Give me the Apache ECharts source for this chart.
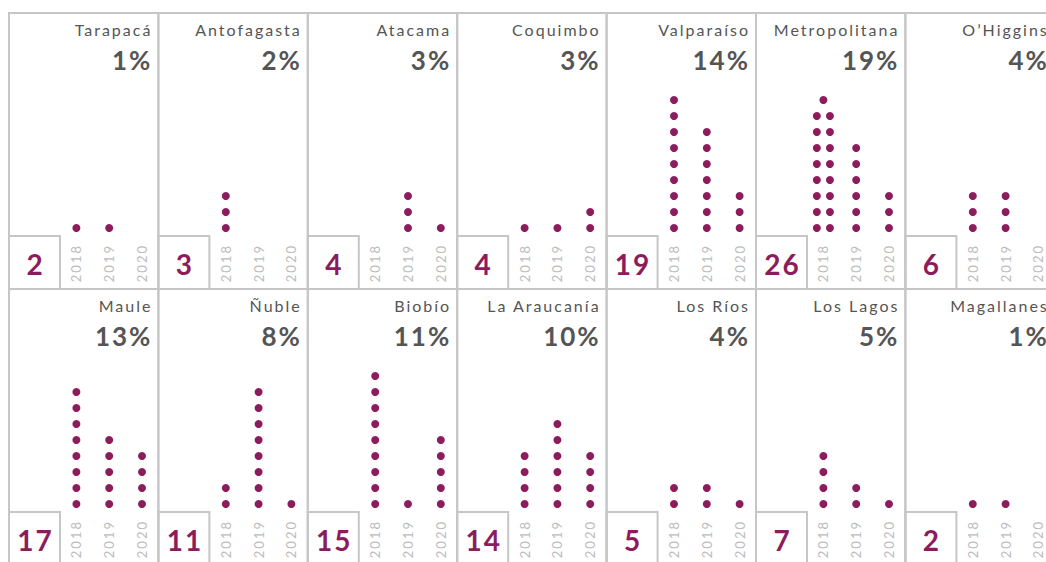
<!DOCTYPE html>
<html>
<head>
<meta charset="utf-8">
<title>Regiones</title>
<script src="https://cdn.jsdelivr.net/npm/echarts@6/dist/echarts.min.js"></script>
<style>
  html, body { margin: 0; padding: 0; background: #fff; }
  #main { width: 1046px; height: 562px; }
  /* el original tiene los textos espaciados */
  #main svg text { letter-spacing: 2px; }
</style>
</head>
<body>
<div id="main"></div>
<script>
// datos por región
const regions = ['Tarapacá', 'Antofagasta', 'Atacama', 'Coquimbo', 'Valparaíso', 'Metropolitana', 'O’Higgins',
  'Maule', 'Ñuble', 'Biobío', 'La Araucanía', 'Los Ríos', 'Los Lagos', 'Magallanes'];
const shares = [1, 2, 3, 3, 14, 19, 4, 13, 8, 11, 10, 4, 5, 1];
const totals = [2, 3, 4, 4, 19, 26, 6, 17, 11, 15, 14, 5, 7, 2];
const years = ['2018', '2019', '2020'];
const cases2018 = [1, 3, 0, 1, 9, 17, 3, 8, 2, 9, 4, 2, 4, 1];
const cases2019 = [1, 0, 3, 1, 7, 6, 3, 5, 8, 1, 6, 2, 2, 1];
const cases2020 = [0, 0, 1, 2, 3, 3, 0, 4, 1, 5, 4, 1, 1, 0];

const DOT = '#8c1c5c';
const LINE = '#c6c6c6';
const TEXT = '#555';
const FONT = 'Lato, "Noto Sans", sans-serif';

const chart = echarts.init(document.getElementById('main'), null, { renderer: 'svg' });

// geometría de los paneles
const x0 = 9, y0 = 13, panelW = 149.4, panelH = 276, boxW = 51, boxH = 53;
const unit = 16, yMax = 12;

// un punto por caso; columnas dobles cuando no caben
function dotsFor(col, v) {
  const pts = [];
  if (v <= 10) {
    for (let k = 0; k < v; k++) pts.push([col, k + 0.5]);
  } else {
    const n = Math.floor(v / 2);
    for (let k = 0; k < n; k++) {
      pts.push([col - 0.2, k + 0.5]);
      pts.push([col + 0.2, k + 0.5]);
    }
    if (v % 2) pts.push([col, n + 0.5]);
  }
  return pts;
}

const grids = [], xAxes = [], yAxes = [], series = [], graphics = [];

regions.forEach(function (name, i) {
  const row = Math.floor(i / 7), col = i % 7;
  const px = x0 + col * panelW, py = y0 + row * panelH;
  const base = py + panelH - boxH; // parte de arriba del cuadro del total

  grids.push({
    left: px + boxW, top: base - unit * yMax, width: panelW - boxW, height: unit * yMax,
    containLabel: false, outerBoundsMode: 'none'
  });
  xAxes.push({
    type: 'category', gridIndex: i, data: years, position: 'bottom',
    axisLine: { show: false }, axisTick: { show: false },
    axisLabel: { rotate: 90, margin: 8, color: '#bdbdbd', fontSize: 13, fontFamily: FONT }
  });
  xAxes.push({ type: 'value', gridIndex: i, min: -0.5, max: 2.5, show: false });
  yAxes.push({ type: 'value', gridIndex: i, min: 0, max: yMax, show: false });

  const data = dotsFor(0, cases2018[i]).concat(dotsFor(1, cases2019[i]), dotsFor(2, cases2020[i]));
  series.push({
    type: 'scatter', xAxisIndex: i * 2 + 1, yAxisIndex: i, data: data,
    symbolSize: 8, itemStyle: { color: DOT, opacity: 1 }, silent: true
  });

  // marcos
  graphics.push({
    type: 'rect', shape: { x: px, y: py, width: panelW, height: panelH },
    style: { fill: 'none', stroke: LINE, lineWidth: 2 }, z: 10
  });
  graphics.push({
    type: 'rect', shape: { x: px, y: base, width: boxW, height: boxH },
    style: { fill: 'none', stroke: LINE, lineWidth: 2 }, z: 10
  });
  // textos
  graphics.push({
    type: 'text', style: {
      x: px + panelW - 6, y: py + 16, text: name, fill: TEXT,
      fontSize: 16, fontFamily: FONT, align: 'right', verticalAlign: 'middle'
    }
  });
  graphics.push({
    type: 'text', style: {
      x: px + panelW - 6, y: py + 47, text: shares[i] + '%', fill: TEXT,
      fontSize: 26, fontWeight: 'bold', fontFamily: FONT, align: 'right', verticalAlign: 'middle'
    }
  });
  graphics.push({
    type: 'text', style: {
      x: px + boxW / 2 + 1, y: base + boxH / 2 + 1, text: String(totals[i]), fill: DOT,
      fontSize: 28, fontWeight: 'bold', fontFamily: FONT, align: 'center', verticalAlign: 'middle'
    }
  });
});

chart.setOption({
  animation: false,
  grid: grids,
  xAxis: xAxes,
  yAxis: yAxes,
  series: series,
  graphic: graphics
});
</script>
</body>
</html>
